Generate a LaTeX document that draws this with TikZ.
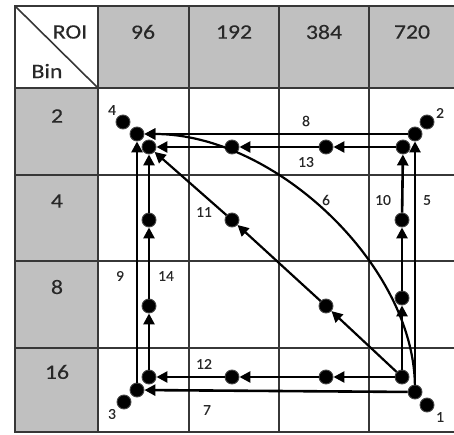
\documentclass[tikz,border=0pt]{standalone}
\usepackage{fontspec}
\setmainfont{Carlito}
\newfontfamily\hdrfont{Carlito}[FakeStretch=1.16, FakeBold=0.3]
\newfontfamily\lblfont{Carlito}[FakeStretch=1.04, FakeBold=0.2]
\usetikzlibrary{arrows.meta}
\definecolor{hdrgray}{RGB}{192,192,192}
\definecolor{gridcol}{RGB}{55,55,55}
\definecolor{dotrim}{RGB}{70,70,70}
\definecolor{txt}{RGB}{40,40,40}
\tikzset{
  gridline/.style={draw=gridcol, line width=1.6pt},
  hdr/.style={font=\hdrfont\fontsize{20.5}{22}\selectfont, text=txt, inner sep=0pt},
  lbl/.style={font=\lblfont\fontsize{15}{17}\selectfont, text=txt, inner sep=0pt},
  dot/.style={circle, fill=black, draw=dotrim, line width=0.9pt, minimum size=14pt, inner sep=0pt},
  arr/.style={line width=2.6pt, -{Triangle[length=11pt,width=11pt]}},
  arrc/.style={line width=2.2pt, -{Triangle[length=11pt,width=11pt]}}
}
\begin{document}
\begin{tikzpicture}[x=1pt,y=-1pt]
\useasboundingbox (0,0) rectangle (454,435);
% header fills
\fill[hdrgray] (98,6) rectangle (460,88);
\fill[hdrgray] (15,88) rectangle (98,432);
% grid
\foreach \xx in {15,98,189,279,369,459} \draw[gridline] (\xx,6) -- (\xx,432);
\foreach \yy in {88,175,261,348} \draw[gridline] (15,\yy) -- (460,\yy);
\draw[draw=gridcol, line width=2.6pt] (14,6) -- (460,6);
\draw[draw=gridcol, line width=2.2pt] (14,432) -- (460,432);
\draw[gridline] (15,6) -- (98,88);
% header texts
\node[hdr] (roi) at (70,32) {ROI};
\node[hdr] (bin) at (47,71) {Bin};
\node[hdr] (c96) at (143,32) {96};
\node[hdr] (c192) at (234,32) {192};
\node[hdr] (c384) at (324,32) {384};
\node[hdr] (c720) at (412,32) {720};
\node[hdr] (r2) at (57,116) {2};
\node[hdr] (r4) at (57,201) {4};
\node[hdr] (r8) at (57,287) {8};
\node[hdr] (r16) at (57,372) {16};
% corner dots
\node[dot] (d1) at (427,405) {};
\node[dot] (d2) at (427,122) {};
\node[dot] (d3) at (124,402) {};
\node[dot] (d4) at (123,122) {};
% outer ring
\node[dot] (otl) at (137,134) {};
\node[dot] (otr) at (415,134) {};
\node[dot] (obl) at (137,390) {};
\node[dot] (obr) at (415,392) {};
% inner ring
\node[dot] (itl) at (149,147) {};
\node[dot] (itr) at (403,147) {};
\node[dot] (ibl) at (149,377) {};
\node[dot] (ibr) at (402,377) {};
\node[dot] (t1) at (232,147) {};
\node[dot] (t2) at (326,147) {};
\node[dot] (b1) at (232,377) {};
\node[dot] (b2) at (326,377) {};
\node[dot] (l1) at (149,220) {};
\node[dot] (l2) at (149,306) {};
\node[dot] (r1) at (402,220) {};
\node[dot] (r2d) at (402,298) {};
\node[dot] (g1) at (232,220) {};
\node[dot] (g2) at (326,306) {};
% outer arrows
\draw[arr] (obr) -- (otr);
\draw[arr] (otr) -- (otl);
\draw[arr] (obr) -- (obl);
\draw[arr] (obl) -- (otl);
\draw[arrc] (obr) .. controls (413,265) and (275,134) .. (otl);
% inner arrows
\draw[arr] (ibr) -- (r2d);
\draw[arr] (r2d) -- (r1);
\draw[arr] (r1) -- (itr);
\draw[arr] (itr) -- (t2);
\draw[arr] (t2) -- (t1);
\draw[arr] (t1) -- (itl);
\draw[arr] (ibr) -- (b2);
\draw[arr] (b2) -- (b1);
\draw[arr] (b1) -- (ibl);
\draw[arr] (ibl) -- (l2);
\draw[arr] (l2) -- (l1);
\draw[arr] (l1) -- (itl);
\draw[arrc] (ibr) -- (g2);
\draw[arrc] (g2) -- (g1);
\draw[arrc] (g1) -- (itl);
% labels
\node[lbl] (n1) at (440,417) {1};
\node[lbl] (n2) at (440,113) {2};
\node[lbl] (n3) at (112,414) {3};
\node[lbl] (n4) at (112,110) {4};
\node[lbl] (n5) at (427,200) {5};
\node[lbl] (n6) at (326,200) {6};
\node[lbl] (n7) at (207,410) {7};
\node[lbl] (n8) at (306,121) {8};
\node[lbl] (n9) at (120,276) {9};
\node[lbl] (n10) at (383,200) {10};
\node[lbl] (n11) at (204,212) {11};
\node[lbl] (n12) at (204,364) {12};
\node[lbl] (n13) at (306,162) {13};
\node[lbl] (n14) at (166,276) {14};
\end{tikzpicture}
\end{document}
